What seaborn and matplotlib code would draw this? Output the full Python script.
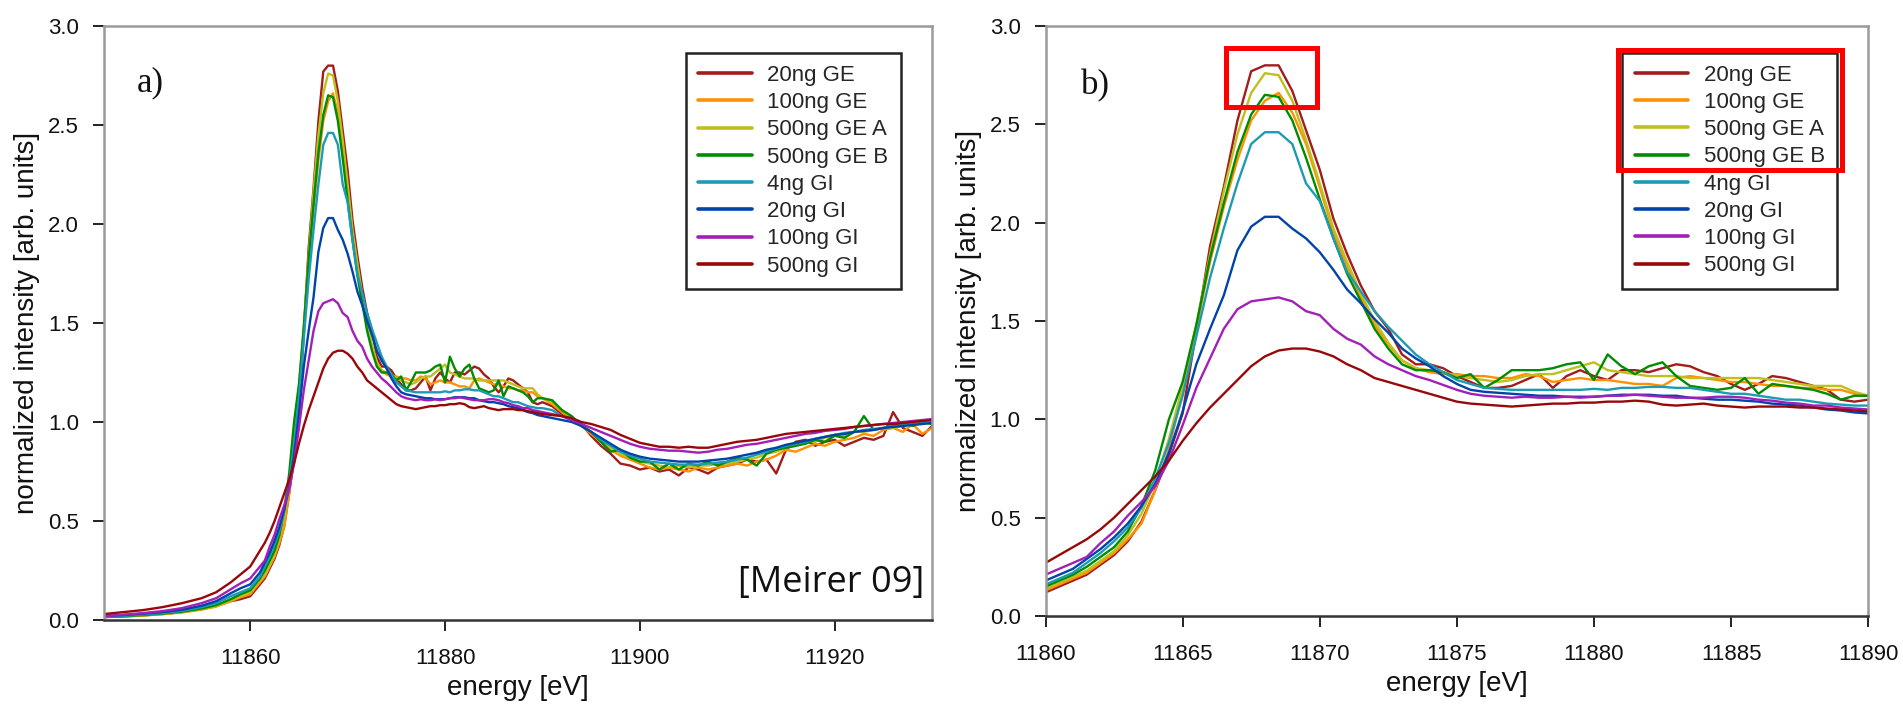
import numpy as np
import pandas as pd
import matplotlib
matplotlib.use("Agg")
import matplotlib.pyplot as plt
from matplotlib.lines import Line2D
from matplotlib.patches import Rectangle
import seaborn as sns

# Energy grid of the scans: coarse pre-edge, 0.5 eV across the edge, 1 eV in the EXAFS start
energy = np.concatenate([
    [11845, 11847, 11849, 11851, 11853, 11855, 11856.5, 11858, 11859],
    np.arange(11860, 11890.01, 0.5),
    np.arange(11891, 11930.01, 1.0),
])

samples = ["20ng GE", "100ng GE", "500ng GE A", "500ng GE B",
           "4ng GI", "20ng GI", "100ng GI", "500ng GI"]
colors = ["#a31c1c", "#ff9000", "#bfbf1e", "#008c00",
          "#1e9bb4", "#0044aa", "#a21fb8", "#980808"]

ge20 = ([0.015, 0.018, 0.023, 0.03, 0.04, 0.055, 0.07, 0.095, 0.105]
        + [0.12, 0.15, 0.18, 0.21, 0.26, 0.31, 0.38, 0.48, 0.64, 0.82, 1.03, 1.45, 1.88, 2.18, 2.52, 2.77,
           2.80, 2.80, 2.67, 2.47, 2.27, 2.02, 1.84, 1.68, 1.55, 1.46, 1.33, 1.28, 1.28, 1.26, 1.22, 1.19,
           1.16, 1.16, 1.17, 1.20, 1.23, 1.16, 1.22, 1.25, 1.22, 1.20, 1.25, 1.25, 1.24, 1.26, 1.28, 1.27,
           1.24, 1.22, 1.18, 1.15, 1.18, 1.22, 1.21, 1.19, 1.17, 1.15, 1.10, 1.09, 1.10]
        + [1.08, 1.04, 1.02, 0.99, 0.93, 0.88, 0.84, 0.79, 0.78, 0.76, 0.77, 0.75, 0.76, 0.73, 0.77, 0.76,
           0.74, 0.77, 0.78, 0.79, 0.81, 0.80, 0.81, 0.74, 0.86, 0.90, 0.91, 0.88, 0.90, 0.91, 0.88, 0.90,
           0.92, 0.91, 0.93, 1.05, 0.97, 0.95, 0.93, 0.98])

ge100 = ([0.015, 0.018, 0.023, 0.03, 0.038, 0.052, 0.068, 0.095, 0.115]
         + [0.13, 0.16, 0.19, 0.22, 0.27, 0.32, 0.39, 0.47, 0.64, 0.85, 1.14, 1.46, 1.80, 2.08, 2.32, 2.52,
            2.62, 2.66, 2.56, 2.40, 2.18, 1.95, 1.78, 1.62, 1.48, 1.38, 1.30, 1.26, 1.24, 1.23, 1.23, 1.22,
            1.22, 1.21, 1.21, 1.23, 1.22, 1.19, 1.20, 1.21, 1.20, 1.20, 1.19, 1.18, 1.18, 1.17, 1.21, 1.22,
            1.21, 1.20, 1.19, 1.19, 1.18, 1.17, 1.17, 1.16, 1.16, 1.15, 1.15, 1.13, 1.12]
         + [1.09, 1.05, 1.01, 0.98, 0.94, 0.90, 0.86, 0.83, 0.81, 0.79, 0.77, 0.76, 0.77, 0.76, 0.75, 0.77,
            0.76, 0.77, 0.78, 0.79, 0.78, 0.80, 0.81, 0.83, 0.86, 0.85, 0.87, 0.89, 0.88, 0.90, 0.91, 0.92,
            0.94, 0.93, 0.96, 0.97, 0.95, 0.99, 0.94, 0.97])

ge500a = ([0.015, 0.019, 0.024, 0.03, 0.04, 0.055, 0.07, 0.10, 0.12]
          + [0.14, 0.17, 0.20, 0.23, 0.28, 0.33, 0.41, 0.52, 0.68, 0.90, 1.17, 1.48, 1.84, 2.16, 2.45, 2.66,
             2.76, 2.75, 2.62, 2.42, 2.20, 1.97, 1.80, 1.64, 1.50, 1.39, 1.30, 1.26, 1.25, 1.24, 1.22, 1.21,
             1.20, 1.19, 1.20, 1.22, 1.23, 1.23, 1.25, 1.27, 1.29, 1.25, 1.24, 1.23, 1.22, 1.22, 1.22, 1.21,
             1.21, 1.21, 1.21, 1.21, 1.21, 1.20, 1.19, 1.18, 1.17, 1.17, 1.17, 1.14, 1.12]
          + [1.10, 1.06, 1.02, 0.99, 0.95, 0.91, 0.87, 0.84, 0.82, 0.80, 0.79, 0.78, 0.77, 0.78, 0.77, 0.78,
             0.78, 0.79, 0.79, 0.80, 0.81, 0.82, 0.84, 0.85, 0.87, 0.88, 0.90, 0.90, 0.92, 0.93, 0.93, 0.95,
             0.95, 0.96, 0.97, 0.97, 0.98, 0.99, 0.99, 1.00])

ge500b = ([0.015, 0.019, 0.025, 0.032, 0.042, 0.058, 0.075, 0.105, 0.13]
          + [0.15, 0.18, 0.21, 0.25, 0.30, 0.35, 0.43, 0.56, 0.74, 1.00, 1.19, 1.48, 1.82, 2.10, 2.36, 2.55,
             2.65, 2.64, 2.52, 2.33, 2.12, 1.92, 1.74, 1.60, 1.46, 1.36, 1.28, 1.25, 1.25, 1.24, 1.21, 1.23,
             1.16, 1.20, 1.25, 1.25, 1.25, 1.26, 1.28, 1.29, 1.20, 1.33, 1.27, 1.23, 1.27, 1.29, 1.22, 1.17,
             1.16, 1.15, 1.16, 1.21, 1.13, 1.18, 1.17, 1.16, 1.15, 1.13, 1.10, 1.12, 1.12]
          + [1.11, 1.06, 1.03, 0.98, 0.95, 0.90, 0.85, 0.86, 0.82, 0.80, 0.80, 0.76, 0.79, 0.76, 0.79, 0.78,
             0.80, 0.78, 0.80, 0.82, 0.81, 0.78, 0.84, 0.86, 0.87, 0.88, 0.89, 0.91, 0.90, 0.93, 0.92, 0.95,
             1.03, 0.96, 0.97, 0.98, 1.00, 0.98, 1.00, 0.99])

gi4 = ([0.015, 0.021, 0.028, 0.035, 0.046, 0.065, 0.085, 0.12, 0.14]
       + [0.16, 0.19, 0.22, 0.27, 0.32, 0.38, 0.45, 0.55, 0.70, 0.88, 1.12, 1.42, 1.72, 1.97, 2.20, 2.40,
          2.46, 2.46, 2.40, 2.20, 2.11, 1.92, 1.75, 1.65, 1.55, 1.47, 1.40, 1.33, 1.28, 1.24, 1.20, 1.18,
          1.16, 1.155, 1.15, 1.15, 1.15, 1.15, 1.15, 1.15, 1.155, 1.15, 1.16, 1.16, 1.165, 1.165, 1.16, 1.16,
          1.15, 1.14, 1.13, 1.13, 1.12, 1.11, 1.10, 1.10, 1.09, 1.08, 1.075, 1.07, 1.07]
       + [1.06, 1.03, 1.01, 0.98, 0.95, 0.91, 0.88, 0.85, 0.83, 0.815, 0.80, 0.795, 0.79, 0.785, 0.785, 0.785,
          0.79, 0.795, 0.80, 0.81, 0.82, 0.835, 0.85, 0.865, 0.88, 0.89, 0.90, 0.915, 0.925, 0.935, 0.945, 0.95,
          0.96, 0.965, 0.97, 0.98, 0.985, 0.99, 0.995, 1.0])

gi20 = ([0.02, 0.025, 0.032, 0.04, 0.052, 0.072, 0.095, 0.135, 0.16]
        + [0.18, 0.21, 0.24, 0.29, 0.34, 0.40, 0.47, 0.56, 0.67, 0.83, 1.04, 1.28, 1.46, 1.63, 1.86, 1.98,
           2.03, 2.03, 1.97, 1.92, 1.85, 1.76, 1.66, 1.59, 1.51, 1.44, 1.36, 1.31, 1.27, 1.22, 1.18, 1.15,
           1.14, 1.135, 1.13, 1.125, 1.12, 1.12, 1.115, 1.115, 1.115, 1.12, 1.125, 1.125, 1.125, 1.12, 1.12,
           1.11, 1.105, 1.10, 1.10, 1.095, 1.09, 1.08, 1.075, 1.07, 1.06, 1.05, 1.045, 1.035, 1.03]
        + [1.02, 1.01, 1.00, 0.98, 0.95, 0.92, 0.89, 0.86, 0.84, 0.825, 0.815, 0.81, 0.805, 0.80, 0.80, 0.80,
           0.805, 0.81, 0.815, 0.825, 0.835, 0.845, 0.86, 0.87, 0.885, 0.895, 0.905, 0.915, 0.925, 0.935, 0.94,
           0.95, 0.955, 0.96, 0.97, 0.975, 0.98, 0.985, 0.99, 0.995])

gi100 = ([0.02, 0.027, 0.035, 0.045, 0.06, 0.085, 0.11, 0.155, 0.185]
         + [0.21, 0.24, 0.27, 0.30, 0.37, 0.43, 0.51, 0.58, 0.66, 0.79, 0.97, 1.16, 1.31, 1.46, 1.56, 1.60,
            1.61, 1.62, 1.60, 1.55, 1.53, 1.46, 1.41, 1.38, 1.32, 1.28, 1.25, 1.22, 1.20, 1.175, 1.15, 1.13,
            1.12, 1.115, 1.11, 1.115, 1.11, 1.11, 1.115, 1.11, 1.115, 1.12, 1.12, 1.125, 1.12, 1.115, 1.11,
            1.11, 1.11, 1.115, 1.115, 1.11, 1.10, 1.095, 1.085, 1.08, 1.07, 1.07, 1.06, 1.055, 1.05]
         + [1.04, 1.03, 1.01, 0.99, 0.97, 0.95, 0.93, 0.91, 0.89, 0.875, 0.865, 0.86, 0.855, 0.855, 0.85, 0.845,
            0.85, 0.86, 0.865, 0.875, 0.885, 0.89, 0.90, 0.91, 0.92, 0.93, 0.94, 0.945, 0.955, 0.96, 0.965,
            0.975, 0.98, 0.985, 0.99, 0.995, 1.00, 1.005, 1.01, 1.015])

gi500 = ([0.03, 0.04, 0.05, 0.065, 0.085, 0.11, 0.14, 0.19, 0.23]
         + [0.27, 0.31, 0.35, 0.39, 0.44, 0.50, 0.57, 0.64, 0.71, 0.79, 0.89, 0.98, 1.06, 1.13, 1.20, 1.27,
            1.32, 1.35, 1.36, 1.36, 1.345, 1.32, 1.28, 1.25, 1.21, 1.19, 1.17, 1.15, 1.13, 1.11, 1.09, 1.08,
            1.075, 1.07, 1.065, 1.07, 1.075, 1.08, 1.08, 1.085, 1.085, 1.09, 1.09, 1.095, 1.09, 1.075, 1.07,
            1.075, 1.08, 1.07, 1.065, 1.06, 1.065, 1.065, 1.065, 1.06, 1.06, 1.055, 1.05, 1.045, 1.04]
         + [1.035, 1.03, 1.02, 1.00, 0.99, 0.975, 0.96, 0.935, 0.915, 0.895, 0.885, 0.875, 0.875, 0.87, 0.875,
            0.87, 0.87, 0.88, 0.89, 0.90, 0.905, 0.91, 0.92, 0.93, 0.94, 0.945, 0.95, 0.955, 0.96, 0.965, 0.97,
            0.975, 0.98, 0.985, 0.99, 0.99, 0.995, 1.00, 1.005, 1.01])

series = [ge20, ge100, ge500a, ge500b, gi4, gi20, gi100, gi500]
for s in series:
    assert len(s) == len(energy), (len(s), len(energy))

df = pd.concat(
    [pd.DataFrame({"energy": energy, "intensity": s, "sample": name})
     for name, s in zip(samples, series)],
    ignore_index=True,
)

sns.set_theme(style="ticks")
plt.rcParams["font.family"] = ["Liberation Sans", "DejaVu Sans"]

fig = plt.figure(figsize=(19.03, 7.11), dpi=100)
ax_a = fig.add_axes([0.0547, 0.128, 0.4351, 0.8354])
ax_b = fig.add_axes([0.5494, 0.1336, 0.4323, 0.8298])

palette = dict(zip(samples, colors))


def style_axes(ax, xticks, xlim):
    sns.lineplot(data=df, x="energy", y="intensity", hue="sample", hue_order=samples,
                 palette=palette, estimator=None, sort=False, linewidth=1.7,
                 legend=False, ax=ax)
    ax.set_xlim(*xlim)
    ax.set_ylim(0, 3.0)
    ax.set_xticks(xticks)
    ax.set_xticklabels([str(t) for t in xticks])
    ax.set_yticks(np.arange(0, 3.01, 0.5))
    ax.set_yticklabels([f"{v:.1f}" for v in np.arange(0, 3.01, 0.5)])
    ax.tick_params(axis="both", direction="out", length=8, width=1.4,
                   labelsize=16, color="#222222", labelcolor="#111111")
    ax.tick_params(axis="x", pad=12)
    ax.tick_params(axis="y", pad=10)
    for side in ["top", "right", "left"]:
        ax.spines[side].set_color("#9a9a9a")
        ax.spines[side].set_linewidth(1.8)
    ax.spines["bottom"].set_color("#333333")
    ax.spines["bottom"].set_linewidth(1.8)
    ax.set_xlabel("energy [eV]", fontsize=20, color="#111111")
    ax.set_ylabel("normalized intensity [arb. units]", fontsize=20, color="#111111")
    ax.xaxis.set_label_coords(0.5, -0.115)
    ax.xaxis.label.set_verticalalignment("center")
    ax.yaxis.set_label_coords(-0.093, 0.5)
    ax.yaxis.label.set_verticalalignment("center")
    ax.grid(False)

    handles = [Line2D([0], [0], color=c, lw=2.6) for c in colors]
    leg = ax.legend(handles, samples, loc="upper right", bbox_to_anchor=(0.962, 0.955),
                    fontsize=16, frameon=True, fancybox=False, framealpha=1,
                    edgecolor="#222222", borderpad=0.55, labelspacing=0.28,
                    handlelength=2.4, handletextpad=0.7, borderaxespad=0)
    leg.get_frame().set_linewidth(1.8)
    return leg


style_axes(ax_a, [11860, 11880, 11900, 11920], (11845, 11930))
style_axes(ax_b, [11860, 11865, 11870, 11875, 11880, 11885, 11890], (11860, 11890))

ax_a.text(0.039, 0.905, "a)", transform=ax_a.transAxes, fontsize=25,
          family="Liberation Serif", va="center", ha="left", color="#111111")
ax_b.text(0.043, 0.898, "b)", transform=ax_b.transAxes, fontsize=25,
          family="Liberation Serif", va="center", ha="left", color="#111111")
ax_a.text(0.991, 0.047, "[Meirer 09]", transform=ax_a.transAxes, fontsize=26,
          family="Open Sans", va="baseline", ha="right", color="#111111")

# Highlight boxes on the zoomed panel: white-line peak and the GE samples in the legend
ax_b.add_patch(Rectangle((11866.6, 2.587), 3.3, 0.303, fill=False,
                         edgecolor="#ff0000", linewidth=3.6, zorder=6, clip_on=False))
ax_b.add_patch(Rectangle((11880.87, 2.268), 8.16, 0.609, fill=False,
                         edgecolor="#ff0000", linewidth=3.6, zorder=6, clip_on=False))

fig.savefig("out.png", dpi=100, facecolor="white")
